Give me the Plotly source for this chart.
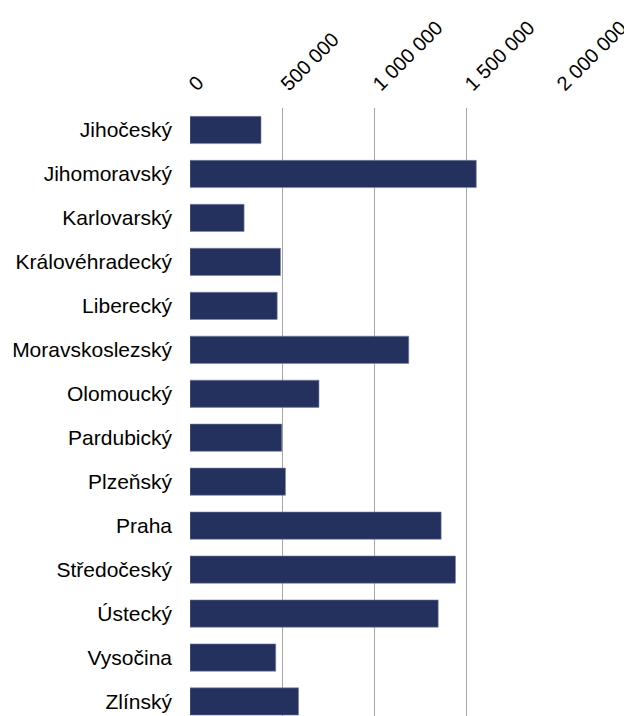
import plotly.graph_objects as go

regions = [
    "Jihočeský", "Jihomoravský", "Karlovarský", "Královéhradecký", "Liberecký",
    "Moravskoslezský", "Olomoucký", "Pardubický", "Plzeňský", "Praha",
    "Středočeský", "Ústecký", "Vysočina", "Zlínský",
]
values = [
    386000, 1556000, 294000, 492000, 474000,
    1189000, 701000, 499000, 519000, 1365000,
    1443000, 1349000, 466000, 590000,
]
tick_vals = [0, 500000, 1000000, 1500000, 2000000]

fig = go.Figure(
    go.Bar(
        x=values,
        y=regions,
        orientation="h",
        marker={"color": "#24305e", "line": {"color": "#7d86a6", "width": 0.6}},
        width=0.62,
    )
)

# page body has an 8px margin, so the figure is sized to 624x708
fig.update_layout(
    width=624,
    height=708,
    margin={"l": 182, "r": 74, "t": 100, "b": 0},
    plot_bgcolor="white",
    paper_bgcolor="white",
    font={"family": "Liberation Sans, Arial, sans-serif", "size": 21, "color": "black"},
    separators=", ",
    showlegend=False,
)
fig.update_xaxes(
    side="top",
    range=[0, 2000000],
    tickvals=tick_vals,
    tickformat=",d",
    tickangle=-45,
    showgrid=True,
    gridcolor="#a6a6a6",
    gridwidth=1,
    zeroline=False,
    showline=False,
    ticks="",
    ticklabelstandoff=8,
    automargin=False,
    tickfont={"size": 20},
)
fig.update_yaxes(
    range=[13.33, -0.5],
    showgrid=False,
    zeroline=False,
    showline=False,
    ticks="",
    ticklabelstandoff=17,
    automargin=False,
)

fig.write_html("out.html")
